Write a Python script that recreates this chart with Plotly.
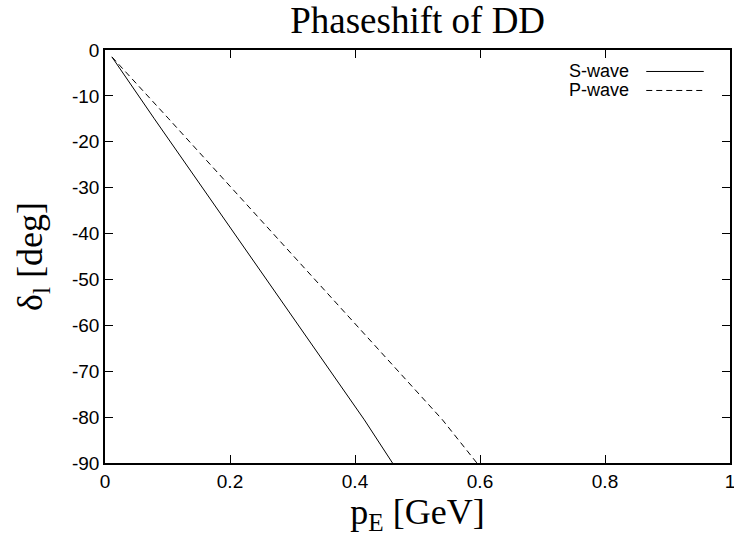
import plotly.graph_objects as go

# Data
s_x = [0.011, 0.079, 0.415, 0.46]
s_y = [-1.5, -15.0, -80.6, -90.0]
p_x = [0.011, 0.102, 0.54, 0.595]
p_y = [-1.5, -15.0, -80.6, -90.0]
x_ticks = [0, 0.2, 0.4, 0.6, 0.8, 1]
x_ticklabels = ["0", "0.2", "0.4", "0.6", "0.8", "1"]
y_ticks = [0, -10, -20, -30, -40, -50, -60, -70, -80, -90]
y_ticklabels = ["0", "-10", "-20", "-30", "-40", "-50", "-60", "-70", "-80", "-90"]
series_names = ["S-wave", "P-wave"]

DASH = "6px,4px"

fig = go.Figure()
fig.add_trace(go.Scatter(x=s_x, y=s_y, mode="lines", name=series_names[0],
                         line=dict(color="black", width=1), showlegend=False))
fig.add_trace(go.Scatter(x=p_x, y=p_y, mode="lines", name=series_names[1],
                         line=dict(color="black", width=1, dash=DASH), showlegend=False))

# gnuplot-style legend: text then line sample (positions in plot-area fractions)
leg_y = [0.948, 0.902]
dashes = ["solid", DASH]
for name, yy, d in zip(series_names, leg_y, dashes):
    fig.add_annotation(x=0.842, y=yy, xref="paper", yref="paper", text=name,
                       showarrow=False, xanchor="right", yanchor="middle",
                       font=dict(family="Liberation Sans, Arial", size=18, color="black"))
    fig.add_shape(type="line", xref="paper", yref="paper", x0=0.866, x1=0.958,
                  y0=yy, y1=yy, line=dict(color="black", width=1, dash=d))

axis_common = dict(showgrid=False, zeroline=False, showline=True, linecolor="black",
                   linewidth=1.5, mirror="ticks", ticks="inside", ticklen=8,
                   tickwidth=1, tickcolor="black", ticklabeloverflow="allow",
                   tickfont=dict(family="Liberation Sans, Arial", size=19, color="black"))

fig.update_xaxes(range=[0, 1], tickvals=x_ticks, ticktext=x_ticklabels,
                 title=dict(text="p<sub>E</sub> [GeV]", standoff=4,
                            font=dict(family="Liberation Serif, Times New Roman", size=36, color="black")),
                 **axis_common)
fig.update_yaxes(range=[-90, 0], tickvals=y_ticks, ticktext=y_ticklabels,
                 title=dict(text="δ<sub>l</sub> [deg]", standoff=18,
                            font=dict(family="Liberation Serif, Times New Roman", size=36, color="black")),
                 **axis_common)

fig.update_layout(
    width=734, height=547,
    paper_bgcolor="white", plot_bgcolor="white",
    margin=dict(l=105, r=4, t=50, b=84, autoexpand=False),
    title=dict(text="Phaseshift of DD", x=0.569, xanchor="center", y=0.963, yanchor="middle",
               font=dict(family="Liberation Serif, Times New Roman", size=37, color="black")),
)

fig.write_html("out.html", config={"displayModeBar": False},
               post_script="document.body.style.margin='0';document.body.style.overflow='hidden';")
